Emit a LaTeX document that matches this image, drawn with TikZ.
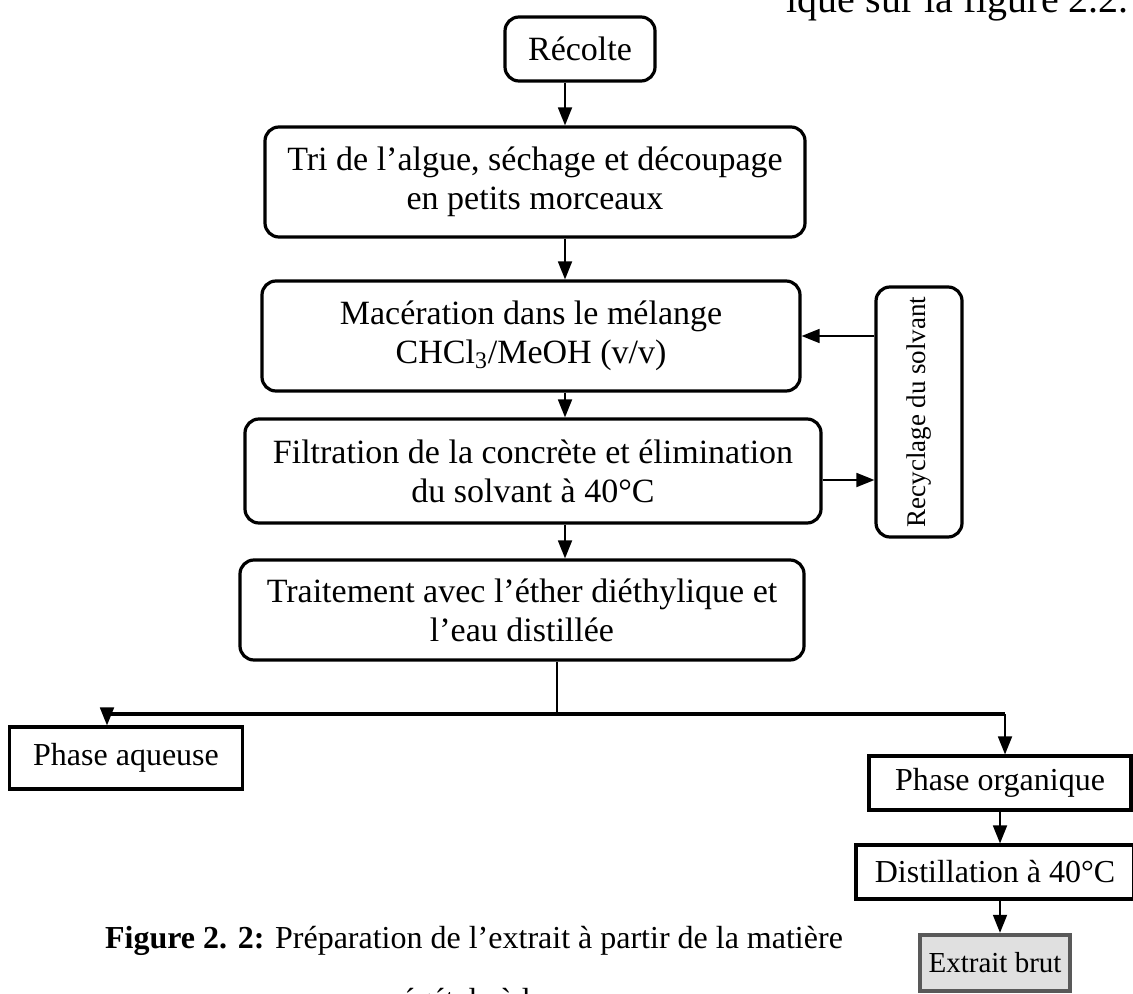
\documentclass[tikz,border=0pt]{standalone}
\usepackage{fontspec}
\setmainfont{Liberation Serif}
\usetikzlibrary{arrows.meta}

\begin{document}
\begin{tikzpicture}[x=.5pt,y=-.5pt,>={Triangle[length=9pt,width=7pt]},
  every node/.style={font=\fontsize{16}{19}\selectfont},
  stepbox/.style={draw,line width=1.6pt,rounded corners=7pt,align=center,inner sep=0pt,font=\fontsize{17}{19.5}\selectfont},
  plainbox/.style={draw,line width=1.6pt,align=center,inner sep=0pt},
  flow/.style={->,line width=.9pt}]
\useasboundingbox (0,0) rectangle (1133,994);
\clip (0,0) rectangle (1133,994);
% main column
\node[stepbox,minimum width=75pt,minimum height=32pt] (recolte) at (580,49) {Récolte};
\node[stepbox,minimum width=270pt,minimum height=55pt] (tri) at (535,182) {Tri de l’algue, séchage et découpage\\en petits morceaux};
\node[stepbox,minimum width=269pt,minimum height=55pt] (macer) at (531,336) {Macération dans le mélange\\CHCl\textsubscript{3}/MeOH (v/v)};
\node[stepbox,minimum width=288pt,minimum height=52pt] (filtr) at (533,471) {Filtration de la concrète et élimination\\du solvant à 40°C};
\node[stepbox,minimum width=282pt,minimum height=50pt] (trait) at (522,610) {Traitement avec l’éther diéthylique et\\l’eau distillée};
\node[stepbox,minimum width=43pt,minimum height=125pt,font=\fontsize{13.5}{16}\selectfont] (recyc) at (919,412) {\rotatebox{90}{Recyclage du solvant}};
\coordinate (spine) at (565,0);
\draw[flow] (recolte.south -| spine) -- (tri.north -| spine);
\draw[flow] (tri.south -| spine) -- (macer.north -| spine);
\draw[flow] (macer.south -| spine) -- (filtr.north -| spine);
\draw[flow] (filtr.south -| spine) -- (trait.north -| spine);
% solvent loop
\coordinate (retour) at (0,336);
\coordinate (envoi) at (0,480);
\draw[flow] (recyc.west |- retour) -- (macer.east |- retour);
\draw[flow] (filtr.east |- envoi) -- (recyc.west |- envoi);
% the two phases
\node[plainbox,minimum width=116.5pt,minimum height=31pt] (aq) at (126,758) {Phase aqueuse};
\node[plainbox,minimum width=131pt,minimum height=27pt] (org) at (1000,783) {Phase organique};
\node[plainbox,minimum width=139pt,minimum height=27pt] (dist) at (995,872) {Distillation à 40°C};
\node[plainbox,fill=black!12,draw=black!65,line width=2.2pt,minimum width=75pt,minimum height=28pt,font=\fontsize{14.5}{17}\selectfont] (brut) at (995,963) {Extrait brut};
\coordinate (fork) at (557,714);
\coordinate (gauche) at (107,714);
\coordinate (droite) at (1005,714);
\coordinate (colonne) at (1000,0);
\draw[line width=.9pt] (trait.south -| fork) -- (fork);
\draw[line width=2pt] (gauche) -- (droite);
\draw[flow] (gauche) -- (aq.north -| gauche);
\draw[flow] (droite) -- (org.north -| droite);
\draw[flow] (org.south -| colonne) -- (dist.north -| colonne);
\draw[flow] (dist.south -| colonne) -- (brut.north -| colonne);
% page text around the figure
\node[anchor=base east,font=\fontsize{20}{24}\selectfont] (entete) at (1136,13) {ique sur la figure 2.2.};
\node[anchor=base west] (legende) at (98,948) {\textbf{Figure 2. 2:} Préparation de l’extrait à partir de la matière};
\node[anchor=base west] (suite) at (378,1010) {végétale à l};
\end{tikzpicture}
\end{document}
